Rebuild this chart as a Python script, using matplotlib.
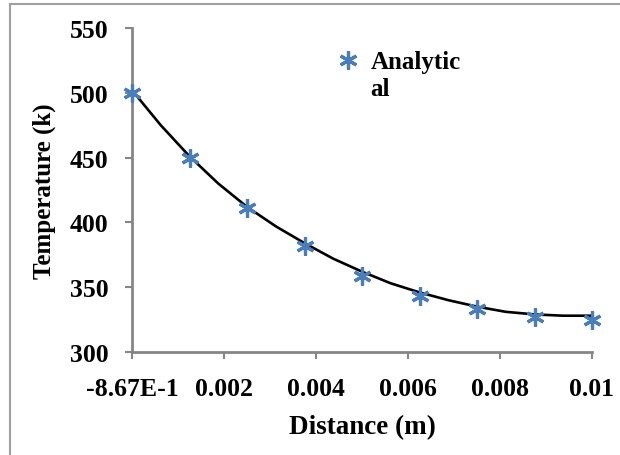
import numpy as np
import matplotlib.pyplot as plt
from matplotlib.patches import Rectangle
from matplotlib.legend_handler import HandlerLine2D

plt.rcParams['font.family'] = ['Liberation Serif', 'DejaVu Serif']
plt.rcParams['font.weight'] = 'bold'

# analytical solution points
distance = [0.0, 0.00125, 0.0025, 0.00375, 0.005, 0.00625, 0.0075, 0.00875, 0.01]
temperature = [500, 450, 411, 382, 359, 343, 333, 327, 325]

# smooth black curve
curve_x = [0.0, 0.000625, 0.00125, 0.001875, 0.0025, 0.003125, 0.00375, 0.004375,
           0.005, 0.005625, 0.00625, 0.006875, 0.0075, 0.008125, 0.00875,
           0.009375, 0.01]
curve_t = [502, 475, 451, 430, 412, 397, 384, 372, 362, 353, 346, 340, 335,
           331, 329, 328, 328]

xticks = [0.0, 0.002, 0.004, 0.006, 0.008, 0.01]
xticklabels = ['-8.67E-1', '0.002', '0.004', '0.006', '0.008', '0.01']
yticks = [300, 350, 400, 450, 500, 550]

blue = '#4A7EBB'
grey = '#868686'


class RaisedHandler(HandlerLine2D):
    # put the legend marker on the first line of the label
    def create_artists(self, legend, orig_handle, xdescent, ydescent,
                       width, height, fontsize, trans):
        arts = super().create_artists(legend, orig_handle, xdescent, ydescent,
                                      width, height, fontsize, trans)
        for a in arts:
            a.set_ydata(np.asarray(a.get_ydata()) + 0.6 * fontsize)
        return arts


fig = plt.figure(figsize=(6.2, 4.56), dpi=100)
ax = fig.add_axes([132 / 620, 1 - 353 / 456, 460 / 620, 324 / 456])

ax.plot(curve_x, curve_t, color='black', lw=1.9, zorder=2,
        solid_joinstyle='round')

pts, = ax.plot(distance, temperature, linestyle='none', marker=(6, 2, 0),
               markersize=13, markeredgewidth=2.3, color=blue, clip_on=False,
               zorder=3, label='Analytic\nal')

ax.set_xlim(0, 0.01)
ax.set_ylim(300, 550)
ax.set_xticks(xticks)
ax.set_xticklabels(xticklabels)
ax.set_yticks(yticks)

for s in ['top', 'right']:
    ax.spines[s].set_visible(False)
for s in ['left', 'bottom']:
    ax.spines[s].set_color(grey)
    ax.spines[s].set_linewidth(2)

ax.tick_params(axis='x', direction='out', length=5, width=1.5, color=grey,
               pad=13, labelsize=18.5)
ax.tick_params(axis='y', direction='out', length=5, width=1.5, color=grey,
               pad=12, labelsize=18.5)

ax.set_xlabel('Distance (m)', fontsize=19.5, fontweight='bold', labelpad=10)
ax.set_ylabel('Temperature (k)', fontsize=18, fontweight='bold', labelpad=10)

ax.legend(handles=[pts], handler_map={pts: RaisedHandler(numpoints=1)},
          loc='upper left', bbox_to_anchor=(0.448, 0.932), frameon=False,
          borderpad=0, borderaxespad=0, handlelength=0.8, handletextpad=0.5,
          prop={'size': 18, 'weight': 'bold'})

# outer chart border
fig.patches.append(Rectangle((10 / 620, -0.1), 2, 1.1 - 5 / 456,
                             transform=fig.transFigure, fill=False,
                             edgecolor='#A0A0A0', lw=1.5))

fig.savefig('out.png', dpi=100)
